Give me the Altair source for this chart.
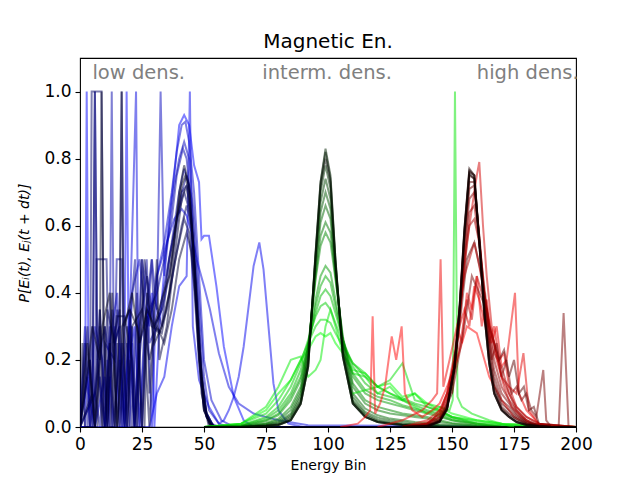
import altair as alt
import pandas as pd

TITLE = "Magnetic En."
X_TICKS = [0, 25, 50, 75, 100, 125, 150, 175, 200]
Y_TICKS = [0.0, 0.2, 0.4, 0.6, 0.8, 1.0]

ANNOT_LABELS = ["low dens.", "interm. dens.", "high dens."]
ANNOT_X = [5, 73.5, 160]
ANNOT_Y = [1.037, 1.037, 1.037]

# ---------------- low density (blue) curves: (bin, P) points ----------------
b01 = [(0,0),(2,0),(2.7,1.0),(3.5,0.1),(6,0),(10,0.15),(11,0),(14,0.3),(16,0),(18,0.25),(18.8,1.0),(19.6,0.2),(22,0.3),(24,0),(26,0.25),(29,0.4),(30,0),(32,0.3),(35,0.55),(38,0.75),(40,0.9),(42,0.93),(44,0.9),(46,0.78),(48,0.73),(49,0.56),(50,0.57),(52,0.57),(55,0.42),(58,0.24),(62,0.09),(66,0.02),(70,0),(200,0)]
b02 = [(0,0),(10,0),(11,0.2),(12,0),(20,0),(21,0.25),(22,0),(28,0),(31,0.1),(34,0.15),(37,0.3),(40,0.42),(43,0.45),(44.3,1.0),(45.5,0.3),(48,0.14),(52,0.06),(56,0.01),(58,0.02),(60,0.05),(62,0.09),(64,0.15),(66,0.24),(68,0.36),(70,0.48),(72.3,0.55),(74,0.47),(76,0.3),(78,0.13),(80,0.05),(84,0.01),(90,0),(200,0)]
b03 = [(0,0),(5,0),(6,1.0),(7,0.2),(10,0),(12,0.15),(14,0),(16,0.25),(18,0),(20,0.3),(22.6,1.0),(23.4,0.3),(25,0),(27,0.35),(29,0),(31,0.45),(35,0.55),(38,0.62),(41,0.65),(43,0.63),(45,0.58),(47,0.5),(50,0.42),(52.4,0.35),(56,0.22),(60,0.12),(64,0.07),(70,0.04),(80,0.02),(92,0.005),(200,0)]
b04 = [(0,0),(4,0.2),(6,0),(8,0.35),(10,0),(12,0.25),(15,0.4),(17,0),(20,0.3),(22,0),(25,0.5),(28,0.3),(31,0.45),(34,0.55),(37,0.7),(39,0.82),(41,0.9),(42.5,0.91),(44,0.85),(46,0.7),(48,0.45),(50,0.2),(53,0.08),(57,0.02),(62,0),(200,0)]
b05 = [(0,0),(3,0.15),(4,0),(6,0.3),(9,0.2),(11,0),(13,0.35),(15,0),(17,0.25),(19,0),(21,0.4),(24,0.5),(27,0.3),(29,0.5),(31,0.35),(32.5,1.0),(34,0.45),(36,0.6),(38,0.72),(40,0.8),(42,0.85),(44,0.8),(46,0.62),(48,0.38),(50,0.15),(52,0.05),(56,0.01),(60,0),(200,0)]
b06 = [(0,0),(2,0.3),(4,0),(8,0.2),(10,0.3),(12,0.2),(12.8,1.0),(13.6,0.25),(16,0.3),(18,0),(20,0.35),(22,0),(24,0.25),(28,0.35),(31,0.4),(34,0.5),(37,0.62),(39,0.75),(41.5,0.83),(43,0.8),(45,0.65),(47,0.4),(49,0.15),(51,0.04),(54,0),(200,0)]
b07 = [(0,0),(6,0.1),(8,0),(10,0.25),(14,0.2),(14.8,0.5),(16.8,0.5),(17.6,0.2),(19,0),(21,0.3),(23,0),(24,0.2),(26.9,0.5),(28,0.25),(31,0.3),(34,0.42),(37,0.55),(40,0.7),(42,0.77),(44,0.72),(46,0.5),(48,0.22),(50,0.06),(53,0.01),(56,0),(200,0)]
b08 = [(0,0),(2,0.25),(3,0),(5,0.3),(6,0),(8,0.15),(10,0),(12,0.3),(13,0),(16,0.2),(18,0),(20,0.3),(22.2,0.5),(23,0.2),(24,0),(26,0.3),(28.9,0.5),(30,0.3),(33,0.35),(36,0.45),(39,0.6),(41,0.7),(43,0.75),(45,0.68),(47,0.45),(49,0.18),(51,0.04),(54,0),(200,0)]
b09 = [(0,0),(6,0.1),(6.7,0.5),(10.7,0.5),(11.5,0.2),(13,0),(15,0.35),(17,0),(19,0.25),(21,0),(23,0.4),(25,0),(27,0.3),(30,0.38),(33,0.3),(36,0.5),(39,0.62),(41,0.7),(43,0.72),(45,0.62),(47,0.4),(49,0.15),(51,0.03),(54,0),(200,0)]
b10 = [(0,0),(4,0),(4.7,1.0),(8.7,1.0),(9.5,0.3),(11,0),(13,0.25),(16,0.35),(18,0),(20,0.2),(22,0),(24,0.3),(27,0.45),(30,0.3),(33,0.35),(36,0.5),(39,0.62),(42,0.7),(44,0.65),(46,0.45),(48,0.2),(50,0.05),(53,0),(200,0)]
b11 = [(0,0),(3,0.3),(5,0),(7,0.2),(9,0),(11,0.35),(14,0.25),(16,0.3),(16.8,1.0),(17.6,0.3),(20,0.35),(22,0),(24,0.2),(26,0.5),(29,0.3),(32,0.28),(35,0.35),(38,0.48),(41,0.6),(43,0.66),(45,0.6),(47,0.4),(49,0.15),(51,0.03),(54,0),(200,0)]
b12 = [(0,0),(5,0.1),(6,1.0),(7,0.2),(10,0.3),(12,0),(14.8,0.33),(18,0.33),(21,0.2),(23,0),(24.9,0.5),(26,0.25),(28,0),(30,0.3),(33,0.28),(36,0.4),(39,0.52),(42,0.62),(44,0.58),(46,0.42),(48,0.2),(50,0.05),(53,0),(200,0)]
b13 = [(0,0),(4,0.2),(6,0),(8,0.35),(10,0),(12,0.25),(14,0),(16,0.3),(16.8,1.0),(17.6,0.25),(19,0),(21,0.3),(25,0.35),(28,0.2),(31,0.3),(34,0.25),(37,0.35),(40,0.5),(43,0.58),(45,0.52),(47,0.35),(49,0.15),(51,0.04),(54,0),(200,0)]
b14 = [(0,0),(5,0.3),(8,0.2),(8.7,1.0),(9.5,0.3),(11,0),(13,0.4),(15,0),(17,0.3),(20,0.35),(23,0.3),(25,0),(27,0.4),(30,0.25),(33,0.3),(36,0.4),(38,0.55),(40,0.7),(42,0.78),(44,0.72),(46,0.5),(48,0.25),(50,0.07),(52,0.01),(55,0),(200,0)]
b15 = [(0,0),(3,0.25),(6,0),(9,0.3),(12,0.4),(15,0),(18,0.3),(21,0.4),(24,0.25),(27,0.35),(30,0.3),(33,0.38),(36,0.45),(39,0.62),(41,0.72),(42.5,0.75),(44,0.7),(46,0.5),(48,0.22),(50,0.05),(53,0),(200,0)]
b16 = [(0,0),(1,0.25),(2,0),(7,0),(8,0.3),(9,0),(14,0),(15,0.25),(16,0),(19,0.3),(20,0),(26,0),(27,0.33),(28,0.1),(31,0.5),(32,0.2),(35,0.3),(38,0.5),(41,0.68),(43,0.72),(45,0.6),(47,0.35),(49,0.1),(52,0),(200,0)]
BLUE_LINES = [b01, b02, b03, b04, b05, b06, b07, b08, b09, b10, b11, b12, b13, b14, b15, b16]

# ---------------- intermediate density (green) curves on a common bin grid ----------------
GX = [50, 65, 75, 80, 85, 89, 92, 95, 97, 99, 101, 103, 106, 110, 115, 120, 125, 130, 135, 140, 145, 150, 160, 170, 200]
g01 = [0, 0.01, 0.05, 0.1, 0.14, 0.2, 0.23, 0.27, 0.28, 0.27, 0.28, 0.25, 0.22, 0.17, 0.16, 0.12, 0.13, 0.09, 0.1, 0.07, 0.06, 0.04, 0.02, 0.01, 0]
g02 = [0, 0.01, 0.06, 0.12, 0.2, 0.21, 0.15, 0.17, 0.2, 0.3, 0.35, 0.3, 0.22, 0.16, 0.15, 0.1, 0.12, 0.08, 0.1, 0.06, 0.05, 0.03, 0.02, 0.01, 0]
g03 = [0, 0.01, 0.04, 0.08, 0.14, 0.2, 0.25, 0.3, 0.32, 0.32, 0.31, 0.28, 0.24, 0.19, 0.16, 0.12, 0.14, 0.19, 0.08, 0.07, 0.05, 0.03, 0.015, 0.005, 0]
g04 = [0, 0.005, 0.03, 0.06, 0.12, 0.19, 0.26, 0.33, 0.36, 0.37, 0.35, 0.31, 0.25, 0.19, 0.15, 0.12, 0.1, 0.085, 0.07, 0.06, 0.045, 0.03, 0.01, 0.005, 0]
g05 = [0, 0.005, 0.025, 0.05, 0.1, 0.17, 0.25, 0.34, 0.39, 0.41, 0.39, 0.34, 0.26, 0.18, 0.13, 0.1, 0.09, 0.08, 0.065, 0.05, 0.04, 0.025, 0.01, 0, 0]
g06 = [0, 0.004, 0.02, 0.04, 0.09, 0.15, 0.24, 0.36, 0.42, 0.45, 0.43, 0.36, 0.26, 0.16, 0.11, 0.09, 0.08, 0.065, 0.055, 0.045, 0.035, 0.02, 0.01, 0, 0]
g07 = [0, 0.003, 0.018, 0.035, 0.08, 0.14, 0.24, 0.38, 0.45, 0.48, 0.46, 0.38, 0.26, 0.15, 0.1, 0.08, 0.07, 0.06, 0.05, 0.04, 0.03, 0.02, 0.005, 0, 0]
g08 = [0, 0.002, 0.012, 0.025, 0.06, 0.12, 0.24, 0.44, 0.54, 0.58, 0.55, 0.44, 0.27, 0.13, 0.08, 0.06, 0.05, 0.04, 0.035, 0.03, 0.02, 0.012, 0.004, 0, 0]
g09 = [0, 0.002, 0.01, 0.02, 0.05, 0.11, 0.23, 0.45, 0.57, 0.61, 0.58, 0.45, 0.26, 0.12, 0.07, 0.05, 0.04, 0.035, 0.03, 0.025, 0.015, 0.01, 0.003, 0, 0]
g10 = [0, 0, 0.008, 0.016, 0.04, 0.1, 0.22, 0.47, 0.61, 0.66, 0.62, 0.46, 0.25, 0.1, 0.055, 0.035, 0.025, 0.02, 0.015, 0.012, 0.008, 0.005, 0, 0, 0]
g11 = [0, 0, 0.006, 0.013, 0.035, 0.09, 0.21, 0.48, 0.64, 0.7, 0.65, 0.47, 0.24, 0.09, 0.045, 0.028, 0.02, 0.015, 0.01, 0.008, 0.005, 0.003, 0, 0, 0]
g12 = [0, 0, 0.005, 0.01, 0.03, 0.08, 0.2, 0.5, 0.67, 0.74, 0.68, 0.48, 0.23, 0.08, 0.04, 0.022, 0.015, 0.01, 0.008, 0.005, 0.003, 0, 0, 0, 0]
g13 = [0, 0, 0.004, 0.008, 0.025, 0.075, 0.19, 0.51, 0.7, 0.78, 0.71, 0.49, 0.22, 0.075, 0.035, 0.018, 0.012, 0.008, 0.005, 0.003, 0, 0, 0, 0, 0]
g14 = [0, 0, 0.003, 0.006, 0.02, 0.07, 0.18, 0.52, 0.73, 0.83, 0.75, 0.5, 0.21, 0.07, 0.03, 0.015, 0.01, 0.006, 0.004, 0.002, 0, 0, 0, 0, 0]
g15 = [0, 0, 0.003, 0.006, 0.02, 0.07, 0.18, 0.52, 0.73, 0.82, 0.74, 0.5, 0.21, 0.07, 0.03, 0.015, 0.01, 0.006, 0.004, 0.002, 0, 0, 0, 0, 0]
g16 = [0, 0, 0.003, 0.006, 0.02, 0.068, 0.18, 0.51, 0.72, 0.8, 0.73, 0.49, 0.21, 0.07, 0.03, 0.015, 0.01, 0.006, 0.004, 0.002, 0, 0, 0, 0, 0]
GREEN_LINES = [g01, g02, g03, g04, g05, g06, g07, g08, g09, g10, g11, g12, g13, g14, g15, g16]
g_spike = [(110,0.1),(120,0.12),(130,0.08),(140,0.04),(145,0.06),(149,0.05),(150.3,0.08),(151.2,1.0),(152.2,0.09),(154,0.06),(158,0.04),(165,0.02),(175,0)]

# ---------------- high density (red) curves ----------------
r01 = [(105,0),(112,0.01),(115,0.03),(117,0.05),(118,0.33),(119,0.04),(121,0.07),(123,0.12),(125.7,0.27),(127.5,0.2),(129.7,0.3),(131,0.1),(134,0.05),(138,0.03),(142,0.05),(145,0.07),(148,0.12),(152,0.2),(156,0.3),(160,0.28),(165,0.15),(170,0.08),(175,0.03),(180,0.01),(200,0)]
r02 = [(120,0),(130,0.02),(138,0.05),(142,0.08),(144,0.1),(145.4,0.5),(146.5,0.12),(149,0.2),(152,0.3),(154,0.25),(156,0.4),(158,0.35),(160,0.45),(162,0.3),(164,0.38),(166,0.25),(168,0.3),(170,0.18),(172,0.2),(175.4,0.4),(177,0.1),(180,0.05),(185,0.01),(200,0)]
r03 = [(130,0),(140,0.02),(145,0.05),(148,0.1),(151,0.2),(153,0.3),(155,0.35),(157,0.3),(159,0.42),(161,0.38),(163,0.32),(165,0.25),(167,0.3),(169,0.2),(171,0.22),(173,0.12),(176,0.1),(178.8,0.22),(181,0.05),(185,0.01),(200,0)]
r04 = [(135,0),(142,0.02),(146,0.06),(149,0.12),(152,0.25),(154,0.4),(156,0.55),(158,0.65),(160,0.75),(161,0.79),(162.5,0.6),(164,0.45),(166,0.3),(168,0.2),(171,0.12),(174,0.06),(178,0.03),(182,0.01),(200,0)]
r05 = [(130,0),(140,0.01),(145,0.04),(149,0.1),(152,0.2),(154,0.28),(156,0.38),(158,0.32),(160,0.45),(162,0.4),(164,0.35),(166,0.28),(168,0.22),(170,0.15),(173,0.12),(176,0.06),(180,0.03),(185,0.01),(190,0),(200,0)]
RX = [130, 140, 145, 148, 151, 153, 155, 157, 159, 161, 163, 165, 167, 170, 173, 176, 180, 185, 190, 200]
r06 = [0, 0.01, 0.04, 0.1, 0.22, 0.35, 0.45, 0.5, 0.55, 0.48, 0.4, 0.3, 0.25, 0.15, 0.1, 0.06, 0.03, 0.01, 0, 0]
r07 = [0, 0.01, 0.03, 0.08, 0.2, 0.32, 0.48, 0.6, 0.62, 0.55, 0.42, 0.3, 0.22, 0.18, 0.1, 0.05, 0.02, 0.005, 0, 0]
r08 = [0, 0.008, 0.03, 0.07, 0.18, 0.32, 0.5, 0.64, 0.66, 0.55, 0.4, 0.28, 0.2, 0.12, 0.08, 0.05, 0.02, 0.005, 0, 0]
r09 = [0, 0.006, 0.025, 0.065, 0.18, 0.33, 0.52, 0.68, 0.7, 0.57, 0.4, 0.26, 0.17, 0.1, 0.07, 0.04, 0.015, 0.005, 0, 0]
r10 = [0, 0.005, 0.02, 0.06, 0.18, 0.33, 0.55, 0.71, 0.72, 0.57, 0.38, 0.24, 0.15, 0.08, 0.06, 0.035, 0.015, 0.005, 0, 0]
r11 = [0, 0.004, 0.02, 0.06, 0.18, 0.34, 0.56, 0.73, 0.73, 0.56, 0.37, 0.22, 0.13, 0.07, 0.05, 0.03, 0.012, 0.004, 0, 0]
r12 = [0, 0.003, 0.018, 0.055, 0.18, 0.34, 0.57, 0.75, 0.74, 0.56, 0.36, 0.21, 0.12, 0.06, 0.04, 0.025, 0.01, 0.003, 0, 0]
r13 = [0, 0.003, 0.017, 0.055, 0.18, 0.35, 0.58, 0.76, 0.75, 0.56, 0.35, 0.2, 0.11, 0.055, 0.035, 0.02, 0.008, 0.002, 0, 0]
r14 = [0, 0.002, 0.016, 0.055, 0.18, 0.35, 0.59, 0.77, 0.75, 0.55, 0.34, 0.19, 0.1, 0.05, 0.03, 0.015, 0.006, 0.002, 0, 0]
r15 = [0, 0.002, 0.016, 0.055, 0.18, 0.35, 0.59, 0.765, 0.75, 0.55, 0.34, 0.19, 0.1, 0.05, 0.03, 0.015, 0.006, 0.002, 0, 0]
r16 = [0, 0.002, 0.015, 0.05, 0.17, 0.34, 0.58, 0.755, 0.74, 0.55, 0.34, 0.19, 0.1, 0.05, 0.03, 0.015, 0.006, 0.002, 0, 0]
RED_GRID_LINES = [r06, r07, r08, r09, r10, r11, r12, r13, r14, r15, r16]
r17 = [(150,0.1),(155,0.3),(158,0.45),(161,0.4),(164,0.35),(166,0.2),(168,0.25),(170,0.15),(172,0.2),(174,0.1),(176,0.12),(178,0.08),(180,0.1),(182,0.05),(184,0.03),(186.8,0.17),(188,0.02),(190,0),(193,0),(195,0.34),(197,0),(200,0)]
r18 = [(145,0.02),(150,0.1),(153,0.3),(156,0.5),(159,0.55),(162,0.45),(165,0.3),(167,0.25),(169,0.2),(171,0.23),(173,0.15),(175,0.2),(177,0.1),(179,0.12),(181,0.05),(183,0.06),(185,0.01),(200,0)]

# ---------------- colour intensities (style) ----------------
BLUE_K = [255, 238, 221, 204, 187, 170, 153, 136, 119, 102, 85, 68, 51, 34, 15, 60]
GREEN_K = [255, 238, 221, 204, 187, 170, 153, 136, 119, 102, 85, 68, 51, 34, 20, 10]
GSPIKE_K = 230
RED_SPARSE_K = [255, 240, 225, 210, 195]
RED_GRID_K = [180, 165, 150, 130, 110, 90, 70, 50, 30, 15, 5]
RED_EXTRA_K = [120, 90]

rows, ids, colors = [], [], []


def add(name, pts, rgb):
    ids.append(name)
    colors.append("#%02x%02x%02x" % rgb)
    for x, y in pts:
        rows.append({"id": name, "x": x, "y": y})


for i, (pts, k) in enumerate(zip(BLUE_LINES, BLUE_K)):
    add(f"b{i}", pts, (0, 0, k))
for i, (vals, k) in enumerate(zip(GREEN_LINES, GREEN_K)):
    add(f"g{i}", zip(GX, vals), (0, k, 0))
add("gs", g_spike, (0, GSPIKE_K, 0))
for i, (pts, k) in enumerate(zip([r01, r02, r03, r04, r05], RED_SPARSE_K)):
    add(f"rs{i}", pts, (k, 0, 0))
for i, (pts, k) in enumerate(zip([r17, r18], RED_EXTRA_K)):
    add(f"re{i}", pts, (k, 0, 0))
for i, (vals, k) in enumerate(zip(RED_GRID_LINES, RED_GRID_K)):
    add(f"rg{i}", zip(RX, vals), (k, 0, 0))

lines_df = pd.DataFrame(rows)
annot_df = pd.DataFrame({"x": ANNOT_X, "y": ANNOT_Y, "label": ANNOT_LABELS})

FONT = "DejaVu Sans"

x_enc = alt.X(
    "x:Q",
    scale=alt.Scale(domain=[0, 200], nice=False, zero=False),
    axis=alt.Axis(values=X_TICKS, title="Energy Bin", format="d", labelFlush=False),
)
y_enc = alt.Y(
    "y:Q",
    scale=alt.Scale(domain=[0, 1.1], nice=False),
    axis=alt.Axis(values=Y_TICKS, title="P[Eᵢ(t), Eⱼ(t + dt)]", format=".1f",
                  titleFontStyle="italic", labelFlush=False),
)

lines = alt.Chart(lines_df).mark_line(strokeWidth=2, opacity=0.5, clip=True).encode(
    x=x_enc,
    y=y_enc,
    color=alt.Color("id:N", scale=alt.Scale(domain=ids, range=colors), legend=None),
    order=alt.Order("x:Q"),
)

texts = alt.Chart(annot_df).mark_text(
    align="left", baseline="alphabetic", fontSize=19.5, font=FONT, color="#808080"
).encode(x=x_enc, y=y_enc, text="label:N")

chart = (
    alt.layer(lines, texts)
    .properties(
        width=496,
        height=369,
        title=alt.TitleParams(TITLE, fontSize=20, font=FONT, fontWeight="normal",
                              color="black", offset=6, anchor="middle"),
        autosize=alt.AutoSizeParams(type="none"),
        padding={"left": 72, "top": 50, "right": 56, "bottom": 46},
    )
    .configure_view(stroke="black", strokeWidth=1.1)
    .configure_axis(
        grid=False,
        domain=False,
        labelFont=FONT,
        labelFontSize=17,
        labelColor="black",
        tickColor="black",
        tickSize=5,
        tickWidth=1.1,
        labelPadding=4,
        titleFont=FONT,
        titleFontSize=14,
        titleFontWeight="normal",
        titleColor="black",
    )
    .configure_axisY(titlePadding=12)
    .configure_axisX(titlePadding=6)
)

chart.save("out.html", embed_options={"renderer": "svg", "actions": False})
